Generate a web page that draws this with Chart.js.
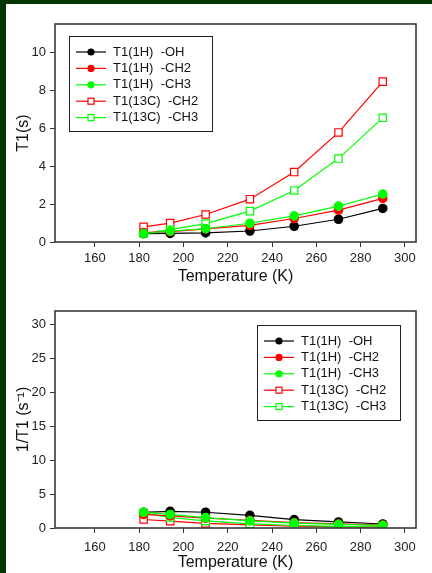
<!DOCTYPE html>
<html>
<head>
<meta charset="utf-8">
<script src="https://cdn.jsdelivr.net/npm/chart.js@4.4.1/dist/chart.umd.min.js"></script>
<style>
  html, body { margin: 0; padding: 0; }
  body { width: 432px; height: 573px; background: #023602; position: relative; overflow: hidden; }
  #papel { position: absolute; left: 6px; top: 4px; right: 0; bottom: 0; background: #fff; }
  canvas { position: absolute; left: 0; }
  #grafica1 { top: 0; }
  #grafica2 { top: 287px; }
</style>
</head>
<body>
<div id="papel"></div>
<canvas id="grafica1" width="432" height="287"></canvas>
<canvas id="grafica2" width="432" height="286"></canvas>
<script>
// datos
const temperaturas = [182, 194, 210, 230, 250, 270, 290];
const nombres = ["T1(1H)  -OH", "T1(1H)  -CH2", "T1(1H)  -CH3", "T1(13C)  -CH2", "T1(13C)  -CH3"];

// T1 (s)
const t1OH = [0.44, 0.45, 0.48, 0.58, 0.83, 1.2, 1.77];
const t1CH2 = [0.5, 0.55, 0.69, 0.88, 1.24, 1.68, 2.3];
const t1CH3 = [0.44, 0.58, 0.7, 0.99, 1.38, 1.89, 2.53];
const t1cCH2 = [0.8, 1.0, 1.45, 2.26, 3.69, 5.78, 8.46];
const t1cCH3 = [0.45, 0.65, 0.97, 1.63, 2.72, 4.4, 6.55];

// 1/T1 (s-1)
const invOH = [2.3, 2.46, 2.32, 1.87, 1.24, 0.89, 0.59];
const invCH2 = [2.0, 1.8, 1.45, 1.14, 0.8, 0.6, 0.43];
const invCH3 = [2.3, 2.0, 1.53, 1.05, 0.73, 0.53, 0.4];
const invcCH2 = [1.25, 1.0, 0.68, 0.45, 0.27, 0.17, 0.12];
const invcCH3 = [2.2, 1.55, 1.05, 0.6, 0.37, 0.23, 0.15];

const ticksX = [160, 180, 200, 220, 240, 260, 280, 300];
const ticksY1 = [0, 2, 4, 6, 8, 10];
const ticksY2 = [0, 5, 10, 15, 20, 25, 30];

const colores = ["#000000", "#ff0000", "#00ff00", "#ff0000", "#00ff00"];
const rellenos = [true, true, true, false, false];
const orden = [3, 2, 1, 5, 4];
const fuente = '"Liberation Sans", Arial, sans-serif';

const marco = {
    id: "marco",
    afterDatasetsDraw(chart) {
        const a = chart.chartArea;
        const ctx = chart.ctx;
        ctx.save();
        ctx.strokeStyle = "#3a3a3a";
        ctx.lineWidth = 1.6;
        ctx.strokeRect(a.left, a.top, a.right - a.left, a.bottom - a.top);
        ctx.restore();
    }
};

const leyendaEnCaja = {
    id: "leyendaEnCaja",
    afterDraw(chart, args, opts) {
        const ctx = chart.ctx;
        ctx.save();
        ctx.fillStyle = "#fff";
        ctx.fillRect(opts.x, opts.y, opts.w, opts.h);
        ctx.strokeStyle = "#222";
        ctx.lineWidth = 1;
        ctx.strokeRect(opts.x + 0.5, opts.y + 0.5, opts.w, opts.h);
        ctx.font = "13px " + fuente;
        ctx.textBaseline = "middle";
        chart.data.datasets.forEach((ds, i) => {
            const y = opts.y + 16 + i * 16.4;
            const xm = opts.x + 22;
            ctx.strokeStyle = ds.borderColor;
            ctx.lineWidth = 1.2;
            ctx.beginPath();
            ctx.moveTo(opts.x + 7, y);
            ctx.lineTo(opts.x + 37, y);
            ctx.stroke();
            if (ds.pointStyle === "circle") {
                ctx.fillStyle = ds.borderColor;
                ctx.beginPath();
                ctx.arc(xm, y, 3.6, 0, Math.PI * 2);
                ctx.fill();
            } else {
                ctx.fillStyle = "#fff";
                ctx.fillRect(xm - 3, y - 3, 6, 6);
                ctx.strokeRect(xm - 3, y - 3, 6, 6);
            }
            ctx.fillStyle = "#111";
            ctx.fillText(ds.label, opts.x + 44, y);
        });
        ctx.restore();
    }
};

function configGrafica(series, yMax, ticksY, tituloY, leyenda, padTicks) {
    const datasets = series.map((valores, i) => ({
        label: nombres[i],
        data: temperaturas.map((t, j) => ({ x: t, y: valores[j] })),
        borderColor: colores[i],
        backgroundColor: rellenos[i] ? colores[i] : "#ffffff",
        pointBackgroundColor: rellenos[i] ? colores[i] : "#ffffff",
        pointBorderColor: colores[i],
        pointStyle: rellenos[i] ? "circle" : "rect",
        pointRadius: rellenos[i] ? 4.2 : 5.2,
        pointBorderWidth: 1.2,
        borderWidth: 1.2,
        tension: 0,
        order: orden[i]
    }));

    return {
        type: "line",
        data: { datasets },
        options: {
            responsive: false,
            animation: false,
            devicePixelRatio: 1,
            layout: { padding: { top: 24, right: 16, left: 0, bottom: 0 } },
            plugins: {
                legend: { display: false },
                tooltip: { enabled: false },
                leyendaEnCaja: leyenda
            },
            scales: {
                x: {
                    type: "linear",
                    min: 142,
                    max: 305,
                    afterBuildTicks: s => { s.ticks = ticksX.map(v => ({ value: v })); },
                    afterFit: s => { s.height = 45; },
                    grid: { drawOnChartArea: false, drawTicks: true, tickLength: 5, color: "#333" },
                    border: { display: false },
                    ticks: { color: "#222", font: { size: 13, family: fuente }, padding: padTicks, maxRotation: 0 },
                    title: { display: true, text: "Temperature (K)", color: "#111", font: { size: 16, family: fuente }, padding: { top: 0, bottom: 1 } }
                },
                y: {
                    type: "linear",
                    min: 0,
                    max: yMax,
                    afterBuildTicks: s => { s.ticks = ticksY.map(v => ({ value: v })); },
                    afterFit: s => { s.width = 55; },
                    grid: { drawOnChartArea: false, drawTicks: true, tickLength: 5, color: "#333" },
                    border: { display: false },
                    ticks: { color: "#222", font: { size: 13, family: fuente }, padding: 4 },
                    title: { display: true, text: tituloY, color: "#111", font: { size: 16, family: fuente }, padding: { top: 14, bottom: 0 } }
                }
            }
        },
        plugins: [marco, leyendaEnCaja]
    };
}

new Chart(document.getElementById("grafica1"),
    configGrafica([t1OH, t1CH2, t1CH3, t1cCH2, t1cCH3], 11.5, ticksY1, "T1(s)",
        { x: 69, y: 36, w: 143, h: 95 }, 4));

new Chart(document.getElementById("grafica2"),
    configGrafica([invOH, invCH2, invCH3, invcCH2, invcCH3], 32, ticksY2, "1/T1 (s\u207B\u00B9)",
        { x: 257, y: 38, w: 143, h: 95 }, 7));
</script>
</body>
</html>
